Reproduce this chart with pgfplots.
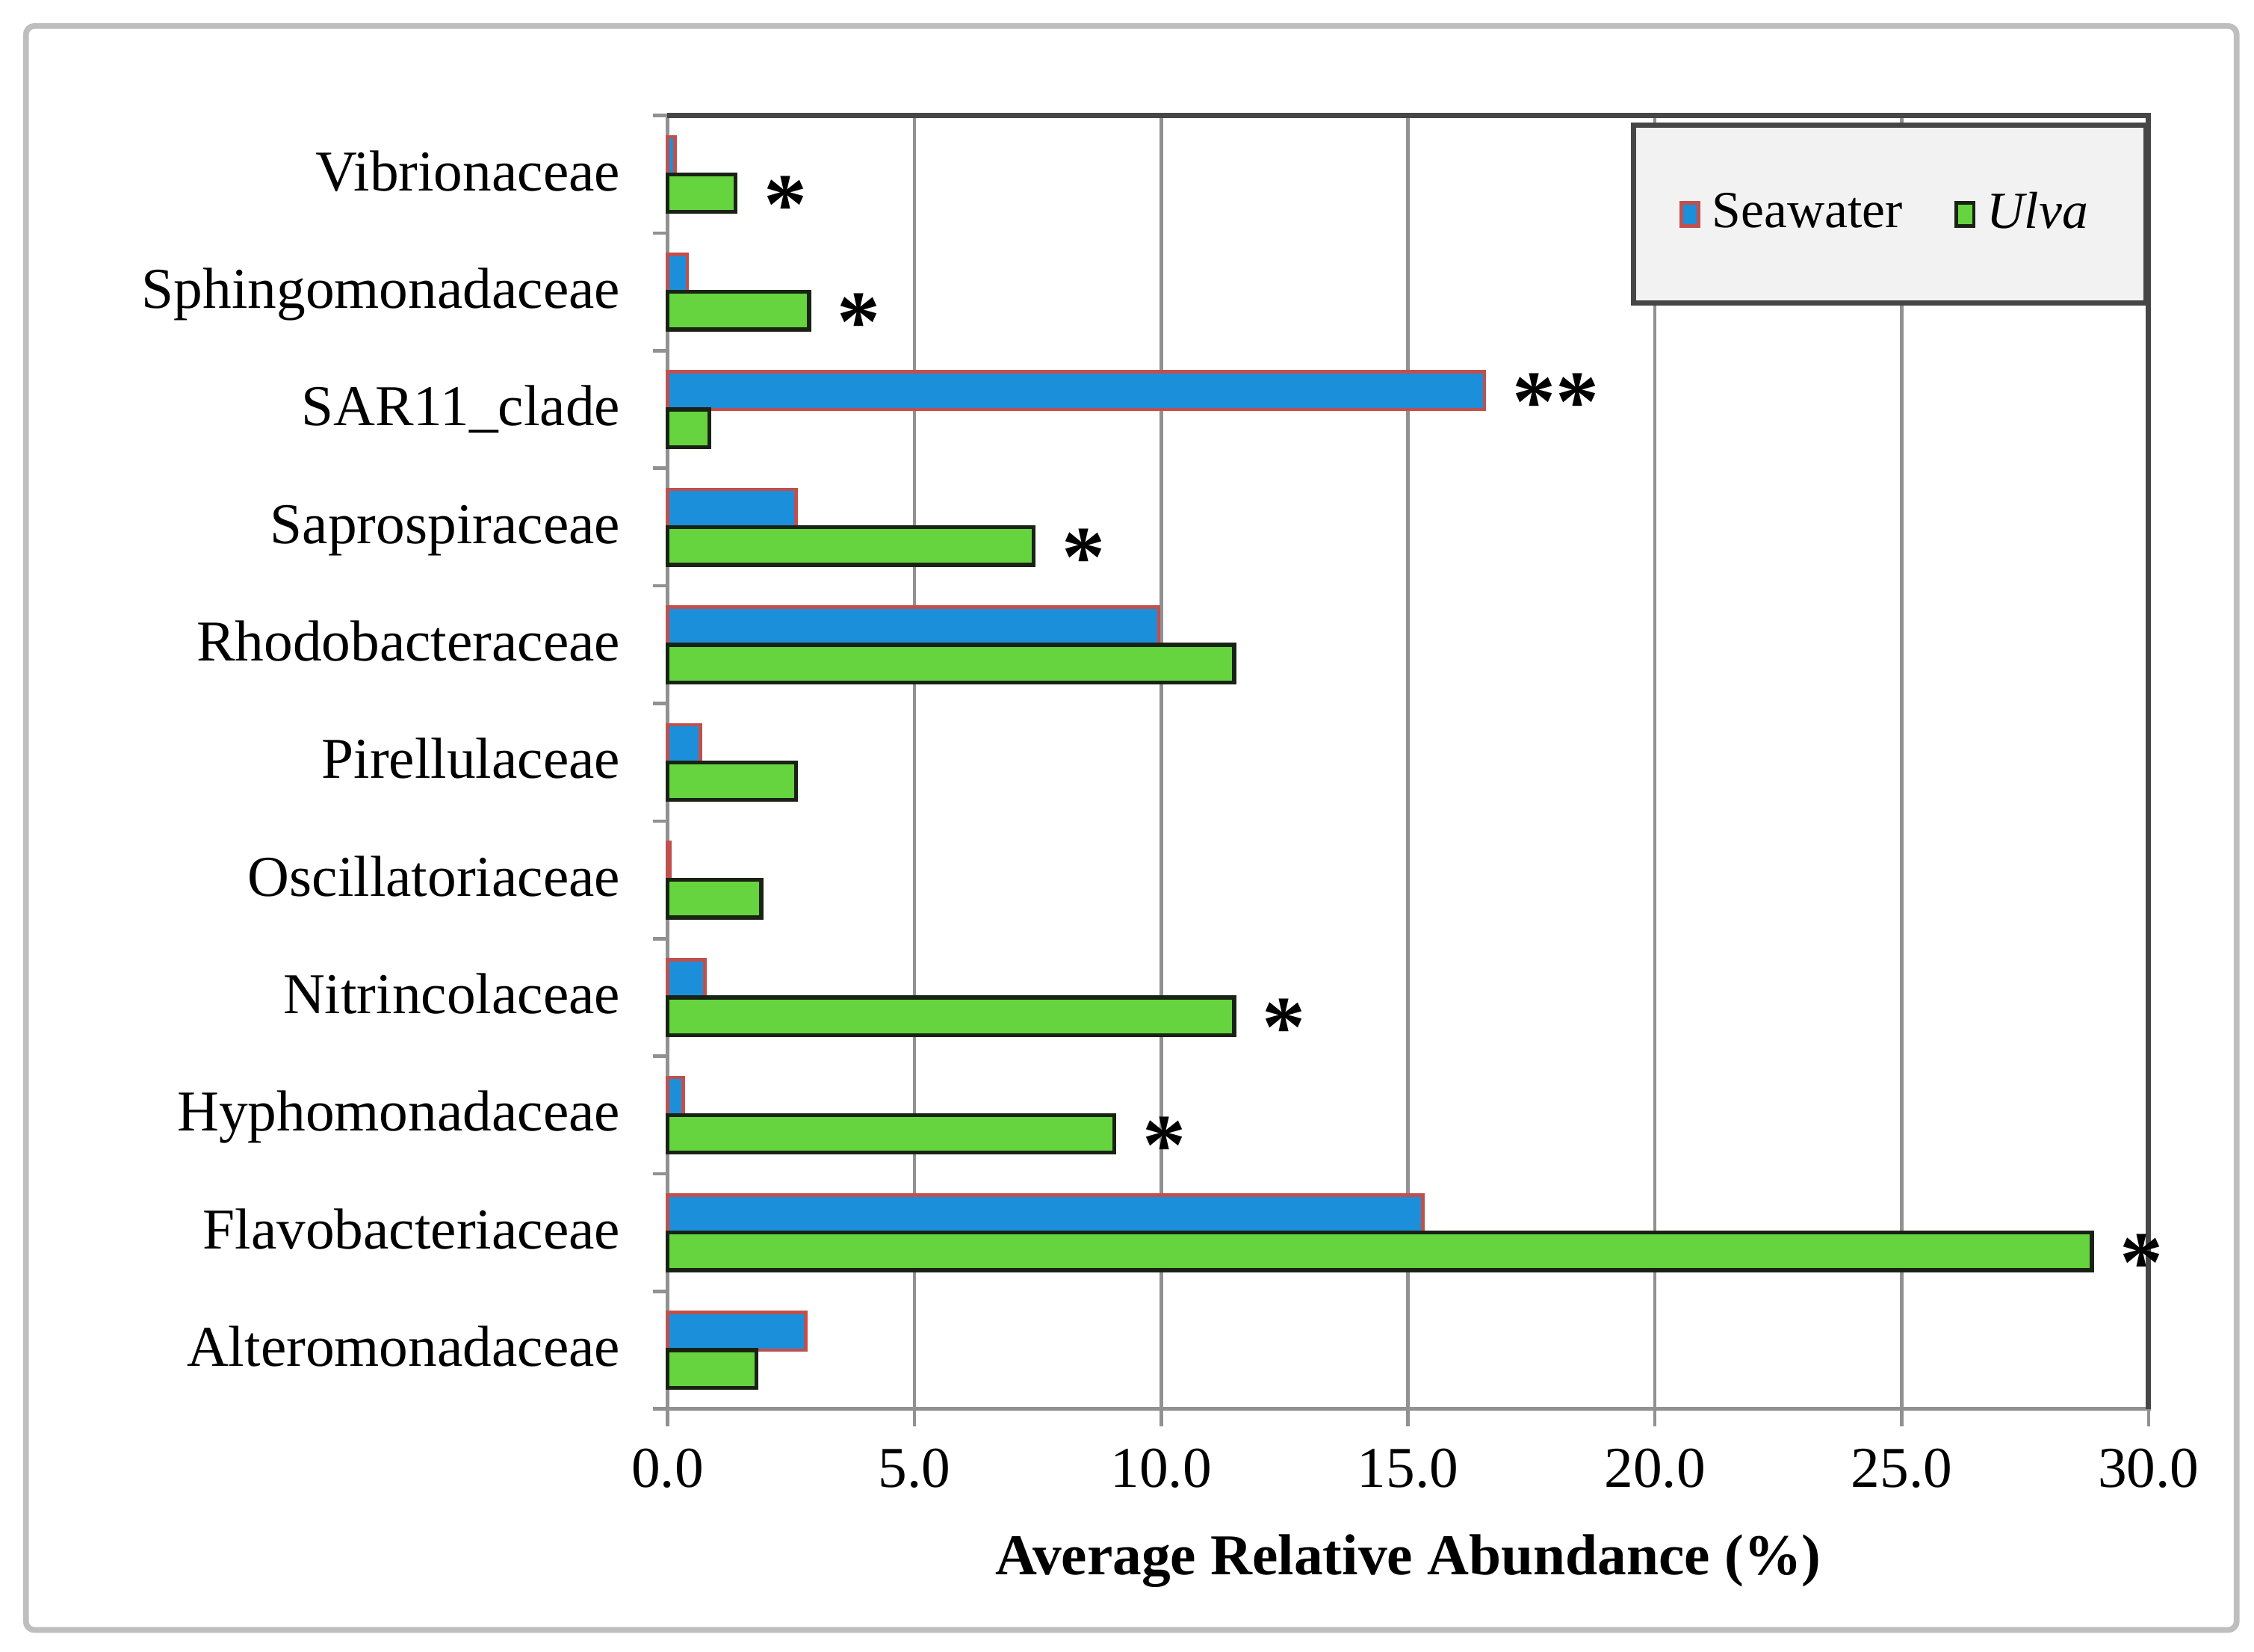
\documentclass[border=0pt]{standalone}
\usepackage{fontspec}
\setmainfont{Liberation Serif}
\usepackage{pgfplots}
\pgfplotsset{compat=1.18}
\definecolor{swfill}{RGB}{28,143,219}
\definecolor{swedge}{RGB}{192,80,77}
\definecolor{ulfill}{RGB}{102,212,62}
\definecolor{uledge}{RGB}{25,35,20}
\definecolor{gridc}{RGB}{145,145,145}
\definecolor{framec}{RGB}{190,190,190}
\definecolor{borderc}{RGB}{70,70,70}
\definecolor{legfill}{RGB}{242,242,242}
\pgfplotsset{sqlegend/.style={legend image code/.code={\draw[##1, line width=0.6pt] (0pt,-2pt) rectangle (3pt,2pt);}}}
\begin{document}
\begin{tikzpicture}
\begin{axis}[
  scale only axis, width=256.25pt, height=223.75pt,
  clip=false,
  xbar, bar width=0.32,
  xmin=0, xmax=30, ymin=-0.5, ymax=10.5,
  xtick={0,5,...,30},
  /pgf/number format/fixed, /pgf/number format/fixed zerofill,
  /pgf/number format/precision=1, /pgf/number format/assume math mode=true,
  ytick={0,...,10},
  yticklabels={Alteromonadaceae,Flavobacteriaceae,Hyphomonadaceae,Nitrincolaceae,Oscillatoriaceae,Pirellulaceae,Rhodobacteraceae,Saprospiraceae,SAR11\_clade,Sphingomonadaceae,Vibrionaceae},
  minor ytick={-0.5,0.5,...,10.5},
  xtick pos=bottom, ytick pos=left,
  tick align=outside,
  major tick length=3pt, minor tick length=2.5pt,
  major y tick style={draw=none},
  minor y tick style={gridc, line width=0.6pt},
  major x tick style={gridc, line width=0.6pt},
  xmajorgrids, major x grid style={gridc, line width=0.6pt},
  axis line style={gridc, line width=0.7pt},
  tick label style={font=\fontsize{10}{12}\selectfont},
  yticklabel style={anchor=east, inner sep=0pt, xshift=-5pt, text height=6.6pt, text depth=1pt},
  xticklabel style={anchor=center, inner sep=0pt, yshift=-7.25pt},
  xlabel={\textbf{Average Relative Abundance (\%)}},
  xlabel style={at={(axis description cs:0.5,-0.1173)}, anchor=center, font=\fontsize{10}{12}\selectfont},
  legend style={at={(rel axis cs:1,0.9944)}, anchor=north east, fill=legfill, draw=borderc, line width=0.9pt,
    font=\fontsize{9}{10}\selectfont, legend columns=2, inner xsep=8pt, inner ysep=9.5pt,
    /tikz/every even column/.append style={column sep=7pt}},
  nodes near coords style={font=\fontsize{15}{15}\selectfont\bfseries, text=black, anchor=west, inner sep=0pt, xshift=4.5pt, yshift=-2pt},
]
\addplot[xbar, bar shift=0.16, fill=swfill, draw=swedge, line width=0.6pt, sqlegend,
  nodes near coords, point meta=explicit symbolic]
  coordinates {
  (2.80,0) []
  (15.30,1) []
  (0.32,2) []
  (0.76,3) []
  (0.05,4) []
  (0.67,5) []
  (9.95,6) []
  (2.60,7) []
  (16.55,8) [**]
  (0.40,9) []
  (0.15,10) []
  };
\addlegendentry{Seawater}
\addplot[xbar, bar shift=-0.16, fill=ulfill, draw=uledge, line width=0.7pt, sqlegend,
  nodes near coords, point meta=explicit symbolic]
  coordinates {
  (1.80,0) []
  (28.85,1) [*]
  (9.05,2) [*]
  (11.48,3) [*]
  (1.90,4) []
  (2.60,5) []
  (11.48,6) []
  (7.42,7) [*]
  (0.85,8) []
  (2.87,9) [*]
  (1.38,10) [*]
  };
\addlegendentry{\textit{Ulva}}
\draw[borderc, line width=0.9pt] (rel axis cs:0,1) -- (rel axis cs:1,1) -- (rel axis cs:1,0);
\draw[framec, line width=1pt, rounded corners=1.5pt] (rel axis cs:-0.4332,-0.1709) rectangle (rel axis cs:1.0595,1.0693);
\path (rel axis cs:-0.4507,-0.1877) rectangle (rel axis cs:1.0712,1.0894);
\end{axis}
\end{tikzpicture}
\end{document}
